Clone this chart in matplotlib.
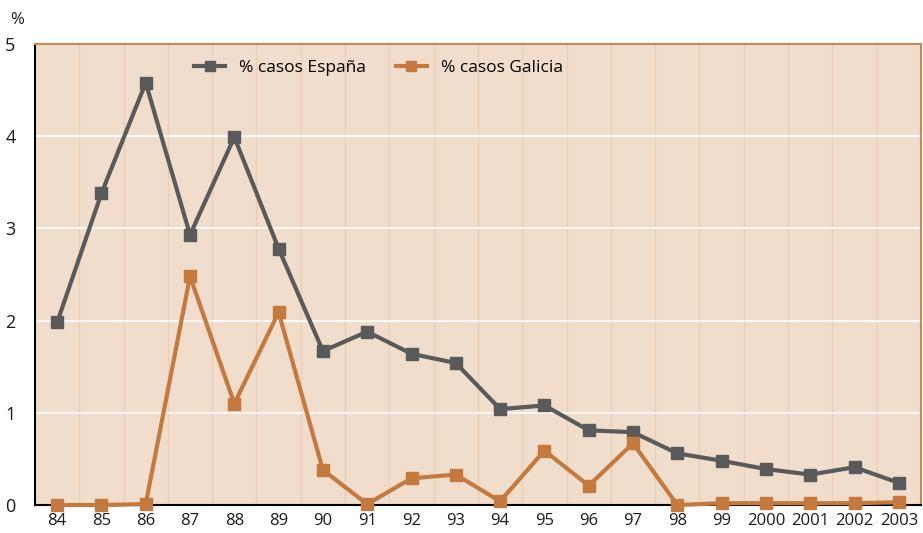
import matplotlib.pyplot as plt
import numpy as np

years = ['84', '85', '86', '87', '88', '89', '90', '91', '92', '93',
         '94', '95', '96', '97', '98', '99', '2000', '2001', '2002', '2003']
espana = [1.98, 3.38, 4.58, 2.93, 3.99, 2.78, 1.67, 1.88, 1.64, 1.54,
          1.04, 1.08, 0.81, 0.79, 0.56, 0.48, 0.39, 0.33, 0.41, 0.24]
galicia = [0.0, 0.0, 0.01, 2.48, 1.10, 2.09, 0.38, 0.01, 0.29, 0.33,
           0.04, 0.59, 0.21, 0.67, 0.0, 0.02, 0.02, 0.02, 0.02, 0.03]

plt.rcParams['font.family'] = ['Open Sans', 'DejaVu Sans']

fig = plt.figure(figsize=(9.23, 5.33), dpi=100)
ax = fig.add_axes([0.0379, 0.0525, 0.9599, 0.8649])
ax.set_facecolor('#f0ddcc')

x = np.arange(len(years))
ax.set_xlim(-0.5, len(years) - 0.5)
ax.set_ylim(0, 5)

# vertical separators between categories, white horizontal grid
for b in np.arange(0.5, len(years) - 0.5):
    ax.axvline(b, color='#eacfb6', linewidth=1.0, zorder=1)
for v in range(1, 5):
    ax.axhline(v, color='white', linewidth=1.2, zorder=1)

ax.plot(x, espana, color='#5a5a5a', linewidth=3, marker='s', markersize=9,
        label='% casos España', zorder=3)
ax.plot(x, galicia, color='#c47a3e', linewidth=3, marker='s', markersize=9,
        label='% casos Galicia', zorder=3, clip_on=False)

ax.set_xticks(x)
ax.set_xticklabels(years)
ax.set_yticks(range(0, 6))
ax.tick_params(length=0, labelsize=12, colors='#1a1a1a')
ax.tick_params(axis='y', pad=14, labelsize=13)
ax.tick_params(axis='x', pad=6)

for s in ['left', 'bottom']:
    ax.spines[s].set_color('black')
    ax.spines[s].set_linewidth(1.5)
for s in ['top', 'right']:
    ax.spines[s].set_color('#c8895a')
    ax.spines[s].set_linewidth(1.5)

fig.text(0.011, 0.955, '%', fontsize=12, color='#1a1a1a')

ax.legend(loc='upper left', bbox_to_anchor=(0.162, 1.0), ncol=2, frameon=False,
          fontsize=12.5, handlelength=1.8, handletextpad=0.8, columnspacing=1.7,
          markerscale=0.8)

fig.savefig('out.png', dpi=100)
